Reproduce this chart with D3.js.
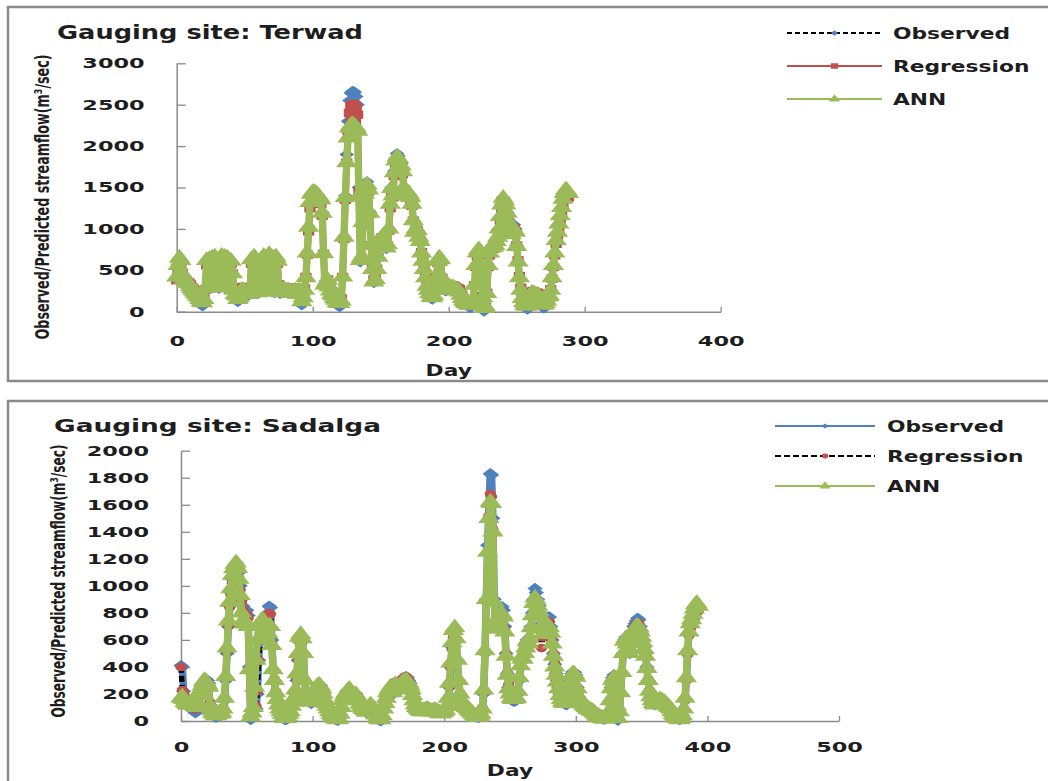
<!DOCTYPE html>
<html lang="en">
<head>
<meta charset="UTF-8">
<title>Observed vs predicted streamflow</title>
<script src="https://d3js.org/d3.v7.min.js"></script>
<style>
  body { margin: 0; background: #fff; }
  text { font-family: "DejaVu Sans", sans-serif; font-weight: bold; fill: #1e1e1e; }
</style>
</head>
<body>
<script>
// ---- Terwad (daily, day = index) ----
const terwadObserved = [
  400, 520, 640, 610, 450, 400, 380, 360, 340, 330,
  300, 260, 240, 220, 200, 180, 160, 120, 80, 70,
  120, 250, 600, 300, 620, 280, 640, 350, 650, 300,
  600, 280, 620, 660, 300, 650, 280, 640, 620, 300,
  600, 450, 250, 200, 180, 120, 150, 200, 260, 250,
  240, 230, 220, 200, 210, 620, 250, 650, 300, 600,
  220, 250, 600, 280, 660, 250, 620, 300, 680, 640,
  250, 640, 230, 650, 600, 300, 220, 260, 250, 270,
  250, 240, 250, 240, 230, 220, 240, 250, 230, 200,
  250, 240, 80, 150, 250, 400, 700, 1000, 1300, 1400,
  1420, 1430, 1440, 1420, 1400, 1380, 1350, 1200, 700, 300,
  350, 380, 300, 250, 200, 180, 150, 120, 80, 70,
  60, 100, 400, 900, 1400, 1900, 2300, 2550, 2640, 2660,
  2660, 2650, 2600, 2500, 1500, 600, 650, 1100, 1450, 1560,
  1570, 1500, 1200, 800, 500, 350, 380, 500, 650, 800,
  850, 900, 800, 780, 760, 800, 1000, 1300, 1500, 1400,
  1700, 1850, 1910, 1880, 1800, 1790, 1700, 1500, 1450, 1420,
  1400, 1420, 1380, 1300, 1100, 950, 1000, 980, 900, 850,
  700, 600, 500, 400, 300, 250, 200, 160, 150, 180,
  250, 400, 600, 640, 620, 400, 280, 260, 250, 300,
  310, 300, 290, 300, 290, 280, 270, 260, 250, 200,
  150, 120, 100, 80, 70, 60, 50, 60, 100, 300,
  550, 700, 740, 720, 500, 150, 5, 20, 200, 550,
  700, 760, 790, 780, 800, 850, 900, 1000, 1150, 1300,
  1380, 1350, 1300, 1200, 1100, 1000, 950, 1030, 1050, 1000,
  800, 600, 400, 250, 140, 80, 50, 40, 30, 60,
  180, 220, 230, 220, 200, 210, 200, 150, 100, 60,
  40, 60, 100, 160, 170, 250, 400, 550, 700, 850,
  950, 1050, 1150, 1250, 1350, 1420, 1460, 1450, 1420
];
const terwadRegression = [
  380, 480, 600, 590, 470, 420, 400, 380, 360, 350,
  330, 300, 280, 260, 240, 220, 200, 170, 140, 130,
  160, 270, 560, 330, 580, 310, 600, 370, 610, 330,
  560, 310, 590, 620, 330, 610, 310, 600, 580, 330,
  580, 460, 290, 250, 230, 190, 200, 240, 290, 300,
  290, 280, 270, 260, 250, 580, 290, 610, 330, 570,
  270, 290, 570, 310, 620, 290, 580, 330, 640, 610,
  290, 600, 270, 610, 580, 330, 270, 290, 290, 300,
  290, 280, 290, 280, 280, 270, 280, 290, 280, 250,
  280, 270, 150, 200, 280, 420, 690, 970, 1250, 1350,
  1370, 1380, 1390, 1370, 1350, 1330, 1300, 1160, 700, 330,
  370, 390, 330, 290, 250, 230, 200, 170, 140, 130,
  120, 160, 420, 880, 1350, 1800, 2180, 2400, 2480, 2500,
  2510, 2500, 2460, 2380, 1450, 620, 650, 1050, 1380, 1500,
  1510, 1450, 1180, 800, 520, 390, 410, 520, 660, 800,
  870, 900, 820, 800, 780, 800, 980, 1250, 1440, 1380,
  1640, 1780, 1840, 1820, 1750, 1740, 1660, 1480, 1420, 1400,
  1380, 1390, 1350, 1280, 1100, 960, 1000, 980, 910, 860,
  720, 630, 530, 440, 340, 290, 250, 210, 200, 220,
  280, 410, 590, 620, 600, 410, 310, 290, 290, 320,
  330, 320, 310, 320, 310, 300, 290, 280, 270, 230,
  190, 160, 140, 120, 110, 100, 90, 100, 140, 320,
  540, 670, 710, 690, 500, 190, 40, 60, 230, 540,
  680, 740, 770, 760, 780, 830, 880, 970, 1100, 1250,
  1330, 1310, 1260, 1170, 1080, 990, 950, 1000, 1010, 970,
  800, 620, 430, 290, 180, 130, 100, 90, 80, 110,
  200, 240, 250, 240, 230, 230, 220, 180, 140, 110,
  90, 110, 140, 190, 200, 270, 400, 540, 680, 820,
  920, 1010, 1100, 1200, 1290, 1360, 1400, 1400, 1380
];
const terwadANN = [
  420, 560, 650, 620, 460, 410, 390, 370, 350, 340,
  310, 280, 260, 240, 220, 200, 180, 150, 120, 110,
  150, 280, 620, 310, 630, 290, 650, 360, 660, 310,
  610, 290, 630, 670, 310, 660, 290, 650, 630, 310,
  610, 460, 260, 210, 190, 150, 170, 210, 260, 250,
  240, 230, 220, 210, 220, 630, 260, 660, 310, 610,
  230, 260, 610, 290, 670, 260, 630, 310, 690, 650,
  260, 650, 240, 660, 610, 310, 230, 260, 250, 260,
  250, 240, 250, 240, 230, 220, 240, 250, 230, 210,
  250, 240, 120, 170, 260, 410, 710, 1020, 1320, 1420,
  1440, 1440, 1430, 1420, 1400, 1380, 1350, 1190, 700, 320,
  350, 380, 300, 250, 210, 190, 160, 140, 110, 100,
  100, 130, 420, 900, 1380, 1800, 2100, 2220, 2250, 2260,
  2250, 2240, 2220, 2180, 1400, 620, 660, 1080, 1420, 1520,
  1530, 1470, 1190, 800, 510, 360, 390, 510, 660, 810,
  860, 900, 810, 790, 770, 810, 1000, 1300, 1490, 1400,
  1680, 1820, 1870, 1850, 1780, 1760, 1690, 1500, 1450, 1420,
  1400, 1420, 1380, 1300, 1100, 960, 1000, 980, 900, 850,
  710, 610, 510, 410, 310, 260, 220, 180, 170, 190,
  260, 410, 610, 650, 630, 410, 290, 270, 260, 300,
  300, 290, 280, 290, 280, 270, 260, 250, 240, 200,
  160, 130, 110, 100, 90, 80, 80, 90, 120, 320,
  560, 710, 750, 730, 500, 170, 40, 60, 220, 560,
  710, 770, 790, 780, 800, 850, 900, 1000, 1150, 1290,
  1370, 1340, 1290, 1190, 1080, 980, 930, 980, 990, 960,
  790, 600, 410, 260, 160, 110, 80, 70, 70, 100,
  190, 220, 220, 210, 200, 200, 190, 150, 110, 90,
  80, 100, 130, 180, 190, 260, 410, 560, 710, 860,
  960, 1060, 1160, 1260, 1360, 1430, 1470, 1460, 1430
];

// ---- Sadalga (daily, day = index) ----
const sadalgaObserved = [
  410, 400, 220, 160, 140, 120, 110, 100, 90, 80,
  70, 60, 80, 120, 180, 220, 250, 280, 300, 310,
  300, 280, 120, 80, 60, 40, 30, 30, 40, 50,
  40, 50, 80, 150, 300, 500, 700, 850, 950, 1050,
  1100, 1150, 1170, 1150, 1100, 1000, 900, 850, 780, 800,
  820, 780, 400, 10, 50, 80, 100, 90, 200, 450,
  600, 720, 750, 700, 600, 650, 800, 850, 840, 600,
  380, 300, 200, 150, 100, 80, 60, 40, 20, 10,
  10, 20, 40, 60, 100, 130, 150, 200, 300, 450,
  600, 630, 600, 500, 300, 200, 160, 150, 140, 130,
  150, 180, 220, 250, 260, 270, 260, 240, 200, 150,
  120, 100, 80, 60, 40, 30, 20, 15, 10, 5,
  10, 50, 100, 150, 180, 200, 220, 230, 240, 220,
  200, 180, 190, 200, 180, 150, 120, 100, 90, 80,
  70, 60, 80, 100, 120, 100, 80, 60, 40, 20,
  10, 5, 2, 30, 80, 120, 160, 200, 220, 240,
  220, 200, 250, 280, 260, 240, 260, 290, 300, 310,
  320, 330, 320, 300, 280, 250, 200, 160, 130, 110,
  100, 90, 85, 80, 80, 90, 100, 110, 100, 95,
  90, 90, 95, 100, 90, 80, 70, 65, 60, 70,
  70, 80, 100, 150, 250, 400, 550, 650, 680, 600,
  450, 300, 200, 150, 130, 120, 110, 100, 90, 80,
  70, 60, 50, 40, 35, 30, 28, 30, 40, 80,
  200, 500, 900, 1300, 1600, 1830, 1820, 1500, 900, 700,
  750, 800, 820, 840, 846, 820, 700, 500, 350, 250,
  200, 160, 150, 145, 150, 155, 200, 300, 400, 450,
  450, 500, 550, 600, 580, 620, 700, 800, 900, 980,
  950, 900, 850, 800, 720, 650, 700, 740, 760, 770,
  770, 700, 600, 500, 420, 350, 300, 250, 200, 160,
  140, 130, 125, 120, 130, 200, 300, 350, 365, 360,
  340, 250, 180, 150, 140, 130, 120, 110, 100, 90,
  85, 80, 75, 70, 60, 50, 40, 35, 30, 25,
  20, 15, 15, 20, 30, 60, 150, 250, 320, 340,
  300, 100, 5, 50, 200, 350, 500, 600, 620, 580,
  550, 500, 600, 650, 700, 720, 740, 760, 750, 700,
  650, 600, 550, 500, 400, 300, 220, 180, 150, 130,
  120, 130, 140, 150, 155, 150, 145, 140, 130, 120,
  110, 100, 90, 70, 50, 40, 30, 20, 15, 10,
  20, 40, 80, 150, 300, 500, 650, 700, 720, 750,
  800, 830, 850, 840
];
const sadalgaRegression = [
  400, 230, 210, 170, 150, 130, 120, 110, 100, 95,
  90, 85, 100, 140, 190, 230, 260, 290, 300, 300,
  290, 270, 140, 100, 80, 60, 50, 50, 60, 70,
  60, 70, 100, 170, 320, 510, 700, 840, 930, 1020,
  1070, 1110, 1130, 1110, 1060, 970, 880, 830, 760, 780,
  790, 760, 400, 40, 70, 100, 120, 110, 220, 450,
  590, 700, 730, 690, 600, 640, 770, 800, 790, 580,
  380, 310, 220, 170, 130, 100, 80, 60, 40, 30,
  30, 40, 60, 80, 110, 140, 160, 210, 310, 450,
  580, 600, 580, 490, 310, 210, 170, 160, 150, 140,
  160, 190, 230, 260, 270, 270, 260, 240, 210, 170,
  140, 120, 100, 80, 60, 50, 40, 35, 30, 25,
  30, 60, 110, 160, 190, 210, 220, 230, 230, 220,
  210, 190, 200, 200, 190, 160, 140, 120, 110, 100,
  90, 80, 90, 110, 130, 110, 90, 70, 50, 40,
  30, 25, 20, 50, 90, 130, 170, 210, 230, 250,
  230, 220, 260, 290, 270, 260, 280, 300, 310, 320,
  330, 330, 320, 300, 280, 250, 210, 170, 140, 120,
  110, 100, 100, 100, 100, 100, 110, 110, 105, 100,
  100, 100, 100, 100, 95, 90, 85, 80, 75, 80,
  80, 90, 110, 160, 250, 390, 530, 620, 650, 590,
  440, 300, 210, 160, 140, 130, 120, 110, 100, 90,
  80, 70, 60, 55, 50, 45, 45, 50, 60, 100,
  230, 520, 880, 1250, 1520, 1680, 1660, 1420, 880, 700,
  740, 780, 790, 800, 800, 780, 680, 500, 360, 270,
  220, 180, 170, 165, 170, 175, 220, 310, 400, 450,
  460, 500, 540, 580, 560, 600, 680, 770, 860, 920,
  900, 860, 800, 700, 540, 620, 680, 720, 735, 735,
  735, 680, 590, 500, 430, 360, 310, 260, 210, 180,
  160, 150, 145, 140, 150, 210, 300, 350, 360, 355,
  335, 250, 190, 160, 150, 140, 130, 120, 110, 100,
  95, 90, 85, 80, 70, 60, 50, 45, 40, 35,
  30, 25, 25, 30, 40, 70, 160, 250, 310, 330,
  290, 110, 20, 70, 210, 350, 490, 580, 600, 570,
  540, 500, 590, 630, 680, 700, 720, 730, 720, 680,
  640, 590, 540, 490, 400, 310, 230, 190, 160, 140,
  130, 140, 150, 155, 160, 155, 150, 145, 135, 125,
  115, 105, 95, 80, 60, 50, 40, 30, 25, 20,
  30, 50, 90, 160, 300, 490, 630, 680, 700, 730,
  770, 800, 820, 810
];
const sadalgaANN = [
  170, 180, 160, 140, 130, 120, 120, 130, 140, 150,
  130, 110, 100, 130, 190, 230, 260, 290, 300, 290,
  270, 250, 110, 80, 60, 50, 40, 40, 50, 60,
  50, 60, 90, 170, 330, 540, 740, 880, 980, 1080,
  1130, 1160, 1170, 1130, 1050, 930, 800, 740, 720, 720,
  720, 700, 380, 30, 60, 100, 250, 450, 600, 700,
  720, 740, 750, 710, 620, 600, 650, 700, 700, 560,
  380, 300, 210, 160, 120, 90, 70, 50, 30, 20,
  20, 30, 50, 70, 110, 140, 170, 230, 350, 500,
  620, 640, 610, 500, 300, 210, 170, 160, 150, 140,
  150, 180, 220, 250, 260, 265, 255, 235, 200, 160,
  130, 110, 90, 70, 50, 40, 30, 20, 15, 10,
  15, 50, 100, 150, 180, 200, 215, 225, 235, 215,
  200, 180, 190, 195, 180, 150, 125, 105, 95, 85,
  75, 65, 85, 105, 120, 105, 85, 65, 45, 25,
  15, 10, 10, 40, 90, 130, 170, 210, 230, 250,
  230, 210, 250, 270, 250, 235, 250, 270, 280, 290,
  290, 300, 290, 280, 260, 230, 190, 150, 120, 100,
  90, 80, 75, 70, 70, 75, 80, 85, 80, 75,
  70, 70, 70, 75, 70, 65, 60, 55, 55, 65,
  70, 80, 110, 170, 280, 430, 580, 670, 690, 610,
  450, 300, 200, 150, 130, 120, 110, 100, 90, 80,
  70, 60, 50, 40, 35, 30, 30, 35, 50, 90,
  230, 520, 900, 1250, 1500, 1620, 1610, 1400, 880, 680,
  720, 760, 780, 790, 790, 770, 660, 480, 340, 240,
  200, 170, 160, 160, 165, 170, 220, 320, 410, 460,
  460, 500, 540, 590, 570, 610, 690, 780, 870, 910,
  890, 850, 810, 770, 700, 640, 680, 700, 710, 700,
  690, 650, 570, 480, 400, 340, 290, 240, 190, 160,
  140, 130, 130, 130, 140, 200, 290, 340, 350, 345,
  325, 240, 180, 150, 140, 130, 120, 110, 100, 90,
  85, 80, 75, 70, 60, 50, 40, 35, 30, 25,
  20, 15, 15, 20, 30, 60, 150, 240, 300, 320,
  290, 110, 20, 70, 210, 360, 500, 590, 610, 570,
  540, 500, 580, 620, 660, 680, 700, 700, 690, 660,
  620, 580, 530, 480, 390, 300, 220, 180, 150, 130,
  120, 130, 140, 150, 155, 150, 145, 140, 130, 120,
  110, 100, 90, 70, 50, 40, 30, 20, 15, 10,
  20, 40, 90, 170, 320, 520, 660, 720, 750, 790,
  830, 860, 870, 850
];

// axis ticks
const terwadXTicks = [0, 100, 200, 300, 400];
const terwadYTicks = [0, 500, 1000, 1500, 2000, 2500, 3000];
const sadalgaXTicks = [0, 100, 200, 300, 400, 500];
const sadalgaYTicks = [0, 200, 400, 600, 800, 1000, 1200, 1400, 1600, 1800, 2000];

const BLUE = "#4f81bd", RED = "#c0504d", GREEN = "#9bbb59", AXIS = "#8a8a8a";
const WIDEN = 1.35; // the source picture is stretched sideways

const svg = d3.select("body").append("svg")
    .attr("width", 1048)
    .attr("height", 781);

function stretch(sel, k) {
    sel.each(function () {
        const w = this.getComputedTextLength();
        d3.select(this).attr("textLength", w * k).attr("lengthAdjust", "spacingAndGlyphs");
    });
}

function marker(type, size) {
    if (type === "diamond") return { path: d3.symbol(d3.symbolSquare, size)(), rot: 45 };
    if (type === "square") return { path: d3.symbol(d3.symbolSquare, size)(), rot: 0 };
    if (type === "circle") return { path: d3.symbol(d3.symbolCircle, size)(), rot: 0 };
    return { path: d3.symbol(d3.symbolTriangle, size)(), rot: 0 };
}

function drawPanel(p) {
    const g = svg.append("g");

    // chart frame
    g.append("rect")
        .attr("x", p.frame[0]).attr("y", p.frame[1])
        .attr("width", p.frame[2]).attr("height", p.frame[3])
        .attr("fill", "none").attr("stroke", AXIS).attr("stroke-width", 2.5);

    const x = d3.scaleLinear().domain(p.xDomain).range(p.xRange);
    const y = d3.scaleLinear().domain(p.yDomain).range(p.yRange);

    // axes, ticks point inward like the original
    const gx = g.append("g")
        .attr("transform", "translate(0," + y(0) + ")")
        .call(d3.axisBottom(x).tickValues(p.xTicks).tickFormat(d3.format("d"))
            .tickSizeInner(-5).tickSizeOuter(0).tickPadding(p.xPad));
    const gy = g.append("g")
        .attr("transform", "translate(" + x(0) + ",0)")
        .call(d3.axisLeft(y).tickValues(p.yTicks).tickFormat(d3.format("d"))
            .tickSizeInner(-9).tickSizeOuter(0).tickPadding(32));

    [gx, gy].forEach(a => {
        a.select(".domain").attr("stroke", AXIS).attr("stroke-width", 1.5);
        a.selectAll(".tick line").attr("stroke", AXIS).attr("stroke-width", 1.3);
        a.selectAll(".tick text")
            .attr("font-size", 14).attr("font-family", null).attr("fill", "#1e1e1e")
            .call(stretch, 1.6);
    });

    // marks live in a sideways-stretched group, like the source image
    const x0 = p.xRange[0];
    const xs = d3.scaleLinear().domain(p.xDomain)
        .range([x0, x0 + (p.xRange[1] - x0) / WIDEN]);
    const marks = g.append("g")
        .attr("transform", "translate(" + x0 + ",0) scale(" + WIDEN + ",1) translate(" + (-x0) + ",0)");

    const line = d3.line().x((d, i) => xs(i)).y(d => y(d));
    p.series.forEach(s => {
        marks.append("path")
            .datum(s.values)
            .attr("d", line)
            .attr("fill", "none")
            .attr("stroke", s.stroke)
            .attr("stroke-width", s.width)
            .attr("stroke-dasharray", s.dash)
            .attr("stroke-linejoin", "round");
        const m = marker(s.shape, s.size);
        marks.append("g").selectAll("path")
            .data(s.values)
            .enter().append("path")
            .attr("d", m.path)
            .attr("transform", (d, i) => "translate(" + xs(i) + "," + y(d) + ") rotate(" + m.rot + ")")
            .attr("fill", s.fill);
    });

    // titles
    g.append("text")
        .attr("x", p.title[0]).attr("y", p.title[1])
        .attr("font-size", p.title[2])
        .attr("textLength", p.title[3]).attr("lengthAdjust", "spacingAndGlyphs")
        .text(p.name);

    g.append("text")
        .attr("x", (p.xRange[0] + p.xRange[1]) / 2).attr("y", p.dayY)
        .attr("text-anchor", "middle")
        .attr("font-size", 15)
        .text("Day")
        .call(stretch, 1.45);

    g.append("text")
        .attr("transform", "translate(" + p.yTitle[0] + "," + p.yTitle[1] + ") rotate(-90) scale(1,1.45)")
        .attr("text-anchor", "middle")
        .attr("dy", "0.35em")
        .attr("font-size", 14)
        .attr("textLength", p.yTitle[2]).attr("lengthAdjust", "spacingAndGlyphs")
        .text("Observed/Predicted streamflow(m³/sec)");

    // legend
    const lg = g.append("g");
    p.series.forEach((s, i) => {
        const ly = p.legend.y + i * p.legend.step;
        lg.append("line")
            .attr("x1", p.legend.x0).attr("x2", p.legend.x1)
            .attr("y1", ly).attr("y2", ly)
            .attr("stroke", s.stroke).attr("stroke-width", 1.8)
            .attr("stroke-dasharray", s.dash);
        const m = marker(s.shape, s.legendSize);
        lg.append("path")
            .attr("d", m.path)
            .attr("transform", "translate(" + (p.legend.x0 + p.legend.x1) / 2 + "," + ly + ") scale(" + WIDEN + ",1) rotate(" + m.rot + ")")
            .attr("fill", s.fill);
        lg.append("text")
            .attr("x", p.legend.tx).attr("y", ly)
            .attr("dy", "0.36em")
            .attr("font-size", 16)
            .text(s.name)
            .call(stretch, 1.36);
    });
}

drawPanel({
    name: "Gauging site: Terwad",
    frame: [8, 7, 1060, 374],
    xDomain: [0, 400], xRange: [176.7, 720.7],
    yDomain: [0, 3000], yRange: [311.7, 63.3],
    xTicks: terwadXTicks, yTicks: terwadYTicks,
    xPad: 24,
    title: [57, 39, 19, 306],
    dayY: 376,
    yTitle: [42, 197, 285],
    legend: { x0: 787, x1: 882, tx: 893, y: 33, step: 33 },
    series: [
        { name: "Observed", values: terwadObserved, stroke: "#000", width: 3, dash: "5,3", shape: "diamond", size: 60, legendSize: 14, fill: BLUE },
        { name: "Regression", values: terwadRegression, stroke: RED, width: 5, dash: null, shape: "square", size: 70, legendSize: 30, fill: RED },
        { name: "ANN", values: terwadANN, stroke: GREEN, width: 5.5, dash: null, shape: "triangle", size: 110, legendSize: 30, fill: GREEN }
    ]
});

drawPanel({
    name: "Gauging site: Sadalga",
    frame: [8, 401, 1060, 420],
    xDomain: [0, 500], xRange: [181, 839],
    yDomain: [0, 2000], yRange: [721, 450.7],
    xTicks: sadalgaXTicks, yTicks: sadalgaYTicks,
    xPad: 21,
    title: [54, 432, 17.5, 327],
    dayY: 776,
    yTitle: [58, 581, 273],
    legend: { x0: 775, x1: 875, tx: 887, y: 426, step: 30 },
    series: [
        { name: "Observed", values: sadalgaObserved, stroke: BLUE, width: 5.5, dash: null, shape: "diamond", size: 65, legendSize: 12, fill: BLUE },
        { name: "Regression", values: sadalgaRegression, stroke: "#000", width: 4, dash: "6,3", shape: "circle", size: 55, legendSize: 18, fill: RED },
        { name: "ANN", values: sadalgaANN, stroke: GREEN, width: 5.5, dash: null, shape: "triangle", size: 110, legendSize: 30, fill: GREEN }
    ]
});
</script>
</body>
</html>
